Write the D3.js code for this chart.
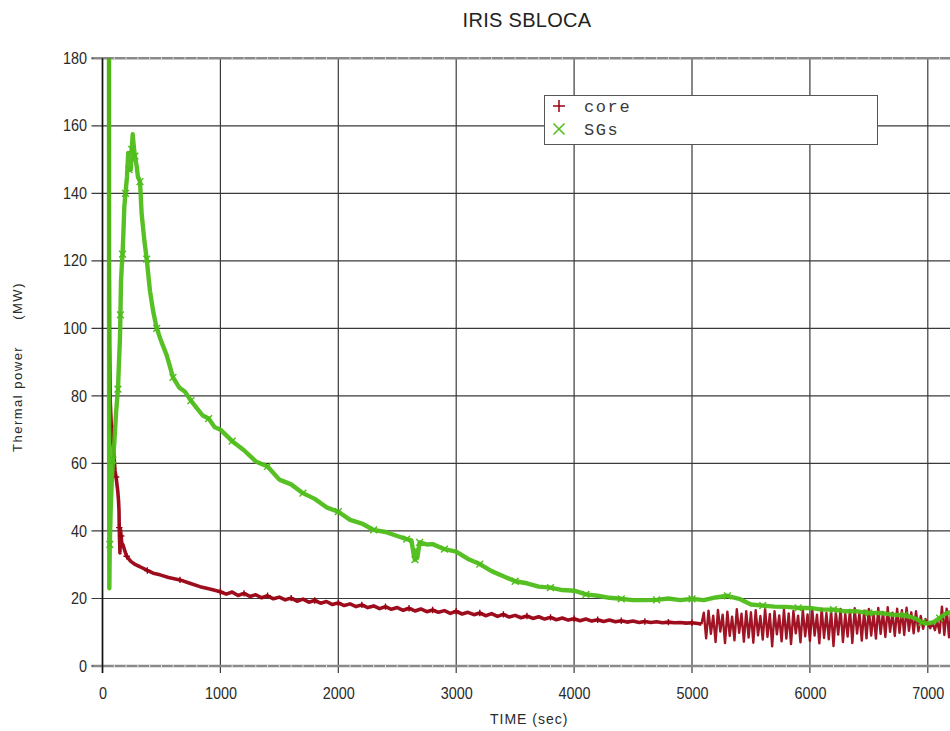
<!DOCTYPE html>
<html>
<head>
<meta charset="utf-8">
<title>IRIS SBLOCA</title>
<script src="https://cdn.jsdelivr.net/npm/d3@7"></script>
<style>
  html, body { margin: 0; padding: 0; background: #fff; }
  svg { display: block; }
</style>
</head>
<body>
<svg id="chart" width="950" height="731"></svg>
<script>
// ---- data ----------------------------------------------------------------
const chartTitle = "IRIS SBLOCA";
const xLabel = "TIME (sec)";
const yLabelMain = "Thermal power";
const yLabelUnit = "(MW)";
const seriesNames = ["core", "SGs"];

const xTicks = [0, 1000, 2000, 3000, 4000, 5000, 6000, 7000];
const yTicks = [0, 20, 40, 60, 80, 100, 120, 140, 160, 180];

// core thermal power: transient and slow decay (sec, MW)
const coreTime = [
  55, 57, 60, 66, 75, 85, 98, 106, 115, 129, 136, 140, 142, 145, 148, 152, 158, 163, 175, 190,
  205, 240, 280, 318, 380, 430, 488, 560, 657, 740, 827, 910,
  1000, 1050, 1100, 1150, 1200, 1250, 1300, 1350, 1400, 1450, 1500, 1550, 1600, 1650, 1700, 1750,
  1800, 1850, 1900, 1950, 2000, 2050, 2100, 2150, 2200, 2250, 2300, 2350, 2400, 2450, 2500, 2550,
  2600, 2650, 2700, 2750, 2800, 2850, 2900, 2950, 3000, 3050, 3100, 3150, 3200, 3250, 3300, 3350,
  3400, 3450, 3500, 3550, 3600, 3650, 3700, 3750, 3800, 3850, 3900, 3950, 4000, 4050, 4100, 4150,
  4200, 4250, 4300, 4350, 4400, 4450, 4500, 4550, 4600, 4650, 4700, 4750, 4800, 4850, 4900, 4950,
  5000, 5050, 5080
];
const corePower = [
  200, 120, 95, 78, 71, 67, 62, 58, 56, 52, 49, 46, 41, 37, 33.5, 40.5, 38.5, 36.5, 35.8, 34,
  32.5, 31, 30, 29.4, 28.3, 27.5, 27, 26.2, 25.5, 24.5, 23.5, 22.8,
  22.0, 21.3, 21.9, 20.9, 21.5, 20.6, 21.1, 20.2, 20.8, 19.9, 20.4, 19.6, 20.1, 19.2, 19.8, 18.9,
  19.4, 18.6, 19.1, 18.2, 18.7, 17.9, 18.4, 17.6, 18.1, 17.3, 17.8, 17.0, 17.6, 16.8, 17.3, 16.5,
  17.1, 16.3, 16.9, 16.1, 16.6, 15.9, 16.4, 15.6, 16.2, 15.4, 15.9, 15.2, 15.7, 14.9, 15.5, 14.7,
  15.3, 14.5, 15.0, 14.3, 14.8, 14.1, 14.6, 13.9, 14.4, 13.7, 14.2, 13.6, 14.0, 13.4, 13.9, 13.3,
  13.7, 13.2, 13.6, 13.1, 13.4, 13.0, 13.3, 12.9, 13.2, 12.9, 13.1, 12.8, 13.0, 12.8, 12.9, 12.7,
  12.8, 12.6, 12.4
];

// core thermal power after 5100 s: oscillating band, sampled every 20 s
const coreBandStart = 5100;
const coreBandStep = 20;
const coreBandPower = [
  15.8, 8.2, 16.4, 9.5, 14.9, 7.1, 16.6, 10.2, 15.2, 6.8, 16.1, 8.9, 14.6, 7.6, 16.8, 9.8, 15.5, 7.2, 16.2, 8.4,
  15.9, 6.9, 16.5, 9.1, 14.8, 7.8, 16.9, 8.6, 15.4, 5.8, 16.2, 9.4, 15.0, 7.3, 16.7, 8.1, 15.6, 6.5, 16.3, 9.7,
  14.9, 7.0, 16.6, 8.8, 15.3,
  7.4, 16.8, 9.0, 15.2, 6.7, 17.0, 8.3, 15.7, 7.9, 16.4, 5.9, 15.9, 9.3, 16.9, 7.1, 15.5, 8.7, 16.6, 6.8, 17.1,
  9.6, 15.8, 7.5, 16.4, 8.2,
  16.9, 9.0, 15.6, 8.1, 17.2, 9.5, 16.0, 8.6, 17.4, 10.1, 15.8, 8.9, 17.0, 9.8, 16.5, 9.2, 17.3, 10.4, 15.9, 9.7,
  16.2, 10.3, 14.8, 11.0, 13.9,
  12.4, 11.2, 12.9, 10.6, 13.3, 9.8, 17.6, 9.2, 17.0, 8.5, 17.4, 9.4, 16.8
];

// steam generators thermal power (sec, MW)
const sgTime = [
  55, 56, 58, 62, 70, 80, 89, 100, 115, 131, 140, 148, 152, 157, 163, 170, 176, 185, 195, 208,
  218, 225, 233, 240, 248, 256, 265, 275, 290, 300, 318, 332, 355, 375, 403, 430, 460, 500, 545, 598,
  650, 700, 750, 800, 850, 900, 950, 1000, 1100, 1200, 1300, 1400, 1500, 1600, 1700, 1800, 1900, 2000,
  2100, 2200, 2300, 2400, 2500, 2580, 2620, 2640, 2650, 2660, 2670, 2690, 2750, 2800, 2900, 3000,
  3100, 3200, 3300, 3400, 3500, 3600, 3700, 3800, 3900, 4000, 4100, 4200, 4300, 4400, 4500, 4600,
  4700, 4800, 4900, 5000, 5100, 5200, 5300, 5400, 5500, 5600, 5700, 5800, 5900, 6000, 6100, 6200,
  6300, 6400, 6500, 6600, 6700, 6800, 6850, 6900, 6950, 7000, 7050, 7100, 7150, 7200, 7250
];
const sgPower = [
  200, 70, 23, 36, 47, 56, 61, 66, 75, 82, 90, 97, 104, 114, 118, 122, 127, 136, 140, 145,
  152, 147, 150, 147, 153, 157.5, 154, 151, 148, 145, 143.5, 134, 126, 120.5, 111, 105, 100, 96, 92, 85.5,
  82.5, 81.2, 78.6, 76.4, 74.2, 73.3, 70.8, 70.0, 66.6, 63.9, 60.6, 59.1, 55.2, 53.8, 51.2, 49.5, 47.0, 45.7,
  43.3, 42.2, 40.3, 39.7, 38.5, 37.6, 37.2, 33.0, 31.5, 34.2, 32.0, 36.6, 36.0, 36.1, 34.6, 33.9,
  31.7, 30.2, 28.1, 26.6, 25.1, 24.5, 23.5, 23.2, 22.5, 22.3, 21.2, 20.8, 20.2, 19.9, 19.5, 19.5,
  19.6, 20.0, 19.5, 19.9, 19.5, 20.3, 20.8, 19.9, 18.2, 17.9, 17.6, 17.5, 17.2, 17.2, 16.7, 16.7,
  16.2, 16.2, 15.7, 15.7, 15.2, 15.1, 14.6, 14.0, 12.9, 12.6, 13.0, 14.2, 15.5, 16.0, 16.3
];

// ---- layout ----------------------------------------------------------------
const W = 950, H = 731;
const plot = { left: 102.5, right: 1045.7, top: 58.3, bottom: 666 };
const colors = { core: "#990012", SGs: "#4dbd18" };

const svg = d3.select("#chart");
svg.append("rect").attr("width", W).attr("height", H).attr("fill", "#fff");

const x = d3.scaleLinear().domain([0, 8000]).range([plot.left, plot.right]);
const y = d3.scaleLinear().domain([0, 180]).range([plot.bottom, plot.top]);

// ---- grid ----------------------------------------------------------------
const grid = svg.append("g");
grid.selectAll("line.v").data(xTicks).join("line")
  .attr("class", "v")
  .attr("x1", d => x(d)).attr("x2", d => x(d))
  .attr("y1", plot.top).attr("y2", plot.bottom + 7)
  .attr("stroke", "#3a3a3a").attr("stroke-width", 1.2);
grid.selectAll("line.h").data(yTicks.filter(d => d > 0 && d < 180)).join("line")
  .attr("class", "h")
  .attr("x1", plot.left - 11).attr("x2", plot.right)
  .attr("y1", d => y(d)).attr("y2", d => y(d))
  .attr("stroke", "#3a3a3a").attr("stroke-width", 1.2);

// frame: grey top border and bottom axis, black left axis
svg.append("line")
  .attr("x1", plot.left - 11).attr("x2", plot.right)
  .attr("y1", plot.top).attr("y2", plot.top)
  .attr("stroke", "#8a8a8a").attr("stroke-width", 2.6);
svg.append("line")
  .attr("x1", plot.left - 11).attr("x2", plot.right)
  .attr("y1", plot.bottom).attr("y2", plot.bottom)
  .attr("stroke", "#8a8a8a").attr("stroke-width", 2.6);

// small minor ticks along the frame lines
const minor = d3.range(0, 8000, 100).filter(d => d % 1000 !== 0);
[plot.top, plot.bottom].forEach(yy => {
  svg.append("g").selectAll("line").data(minor).join("line")
    .attr("x1", d => x(d)).attr("x2", d => x(d))
    .attr("y1", yy - 1).attr("y2", yy + 1)
    .attr("stroke", "#e2e2e2").attr("stroke-width", 1);
});

svg.append("line")
  .attr("x1", plot.left).attr("x2", plot.left)
  .attr("y1", plot.top).attr("y2", plot.bottom + 7)
  .attr("stroke", "#111").attr("stroke-width", 1.6);

// ---- axes labels (via d3 axes) ------------------------------------------
const tickFont = "'Liberation Sans', Arial, sans-serif";

const xAxis = svg.append("g")
  .attr("transform", `translate(0,${plot.bottom})`)
  .call(d3.axisBottom(x).tickValues(xTicks).tickFormat(d3.format("d")).tickSize(0).tickPadding(22));
xAxis.select(".domain").remove();
xAxis.selectAll("text")
  .attr("font-family", tickFont).attr("font-size", 16)
  .attr("fill", "#2a2a2a")
  .attr("transform", "scale(0.9,1)");

const yAxis = svg.append("g")
  .attr("transform", `translate(${plot.left},0)`)
  .call(d3.axisLeft(y).tickValues(yTicks).tickFormat(d3.format("d")).tickSize(0));
yAxis.select(".domain").remove();
yAxis.selectAll("text")
  .attr("x", -15.5 / 0.9)
  .attr("font-family", tickFont).attr("font-size", 16)
  .attr("fill", "#2a2a2a")
  .attr("transform", "scale(0.9,1)");
// short outer ticks for the two frame rows
svg.selectAll("line.yt").data([0, 180]).join("line")
  .attr("class", "yt")
  .attr("x1", plot.left - 11).attr("x2", plot.left - 9)
  .attr("y1", d => y(d)).attr("y2", d => y(d))
  .attr("stroke", "#555").attr("stroke-width", 1.2);

// titles
svg.append("text")
  .attr("x", 527).attr("y", 27)
  .attr("text-anchor", "middle")
  .attr("font-family", tickFont).attr("font-size", 20)
  .attr("letter-spacing", 0.3)
  .attr("fill", "#222")
  .text(chartTitle);

svg.append("text")
  .attr("x", 490).attr("y", 724)
  .attr("font-family", tickFont).attr("font-size", 14)
  .attr("letter-spacing", 1)
  .attr("fill", "#2a2a2a")
  .text(xLabel);

const yl = svg.append("text")
  .attr("transform", "translate(22,452) rotate(-90)")
  .attr("font-family", tickFont).attr("font-size", 13)
  .attr("letter-spacing", 1.5)
  .attr("fill", "#2a2a2a");
yl.append("tspan").text(yLabelMain);
yl.append("tspan").attr("dx", 26).text(yLabelUnit);

// ---- series ----------------------------------------------------------------
svg.append("clipPath").attr("id", "plotClip")
  .append("rect")
  .attr("x", plot.left).attr("y", plot.top)
  .attr("width", plot.right - plot.left).attr("height", plot.bottom - plot.top);

const layer = svg.append("g").attr("clip-path", "url(#plotClip)");
const line = d3.line().x(d => x(d[0])).y(d => y(d[1]));

const sgData = sgTime.map((t, i) => [t, sgPower[i]]);
const coreData = coreTime.map((t, i) => [t, corePower[i]]);
const coreBand = [coreData[coreData.length - 1]]
  .concat(coreBandPower.map((v, i) => [coreBandStart + i * coreBandStep, v]));

const plusPath = s => `M${-s},0H${s}M0,${-s}V${s}`;
const crossPath = s => `M${-s},${-s}L${s},${s}M${-s},${s}L${s},${-s}`;

// core (drawn first, the steam generator trace sits above it)
layer.append("path").datum(coreData)
  .attr("d", line)
  .attr("fill", "none").attr("stroke", colors.core)
  .attr("stroke-width", 3.6).attr("stroke-linejoin", "round")
  .attr("opacity", 0.95);
layer.append("path").datum(coreBand)
  .attr("d", line)
  .attr("fill", "none").attr("stroke", colors.core)
  .attr("stroke-width", 2.4).attr("stroke-linejoin", "round")
  .attr("opacity", 0.92);
layer.append("g").selectAll("path")
  .data(coreData.filter((d, i) => i > 2 && i % 4 === 0)).join("path")
  .attr("transform", d => `translate(${x(d[0])},${y(d[1])})`)
  .attr("d", plusPath(3.2))
  .attr("stroke", colors.core).attr("stroke-width", 1.4).attr("fill", "none");

// steam generators
layer.append("path").datum(sgData)
  .attr("d", line)
  .attr("fill", "none").attr("stroke", colors.SGs)
  .attr("stroke-width", 4.4).attr("stroke-linejoin", "round")
  .attr("opacity", 0.95);
layer.append("g").selectAll("path").data(sgData.filter((d, i) => i > 2 && i % 3 === 0)).join("path")
  .attr("transform", d => `translate(${x(d[0])},${y(d[1])})`)
  .attr("d", crossPath(3.4))
  .attr("stroke", colors.SGs).attr("stroke-width", 1.4).attr("fill", "none");

// ---- legend ----------------------------------------------------------------
const lg = svg.append("g");
lg.append("rect")
  .attr("x", 544.5).attr("y", 95.5).attr("width", 333).attr("height", 49)
  .attr("fill", "#fff").attr("stroke", "#555").attr("stroke-width", 1);
const legendRows = [
  { name: seriesNames[0], color: colors.core, mark: plusPath(6), y: 106 },
  { name: seriesNames[1], color: colors.SGs, mark: crossPath(5.5), y: 129 }
];
legendRows.forEach(r => {
  lg.append("path")
    .attr("transform", `translate(559,${r.y})`)
    .attr("d", r.mark)
    .attr("stroke", r.color).attr("stroke-width", 1.5).attr("fill", "none");
  lg.append("text")
    .attr("x", 584).attr("y", r.y + 6)
    .attr("font-family", "'Liberation Mono', 'Courier New', monospace")
    .attr("font-size", 17).attr("letter-spacing", 1.6)
    .attr("fill", "#3a3a3a")
    .text(r.name);
});
</script>
</body>
</html>
